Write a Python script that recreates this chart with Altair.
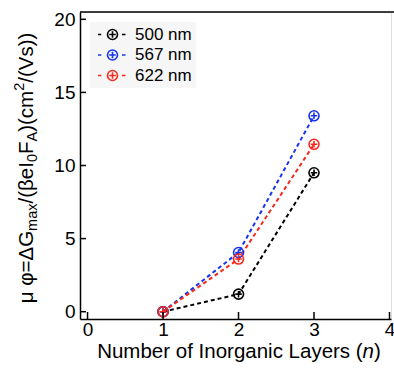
import altair as alt
import pandas as pd

# ---- data ----
layers = [1, 2, 3]
s500 = [0.0, 1.2, 9.5]
s567 = [0.0, 4.05, 13.4]
s622 = [0.0, 3.6, 11.45]
series = ["500 nm", "567 nm", "622 nm"]
colors = ["#000000", "#1634ee", "#f42a1e"]
x_ticks = [0, 1, 2, 3, 4]
y_ticks = [0, 5, 10, 15, 20]

ytitle_parts = ["μ φ=ΔG", "max", "/(βeI", "0", "F", "A", ")(cm", "2", "/(Vs))"]
ytitle_kinds = ["n", "sub", "n", "sub", "n", "sub", "n", "sup", "n"]
xtitle_parts = ["Number of Inorganic Layers (", "n", ")"]
xtitle_italic = [False, True, False]

# ---- layout ----
W, H = 311, 307
FONT = "Liberation Sans"
F_TICK = 19
F_MAIN = 20.5
F_SUB = 14.5
F_LEG = 17

# approximate Arial/Liberation Sans advance widths (em/1000)
AW = {"N": 722, "u": 556, "m": 833, "b": 556, "e": 556, "r": 333, " ": 278, "o": 556,
      "f": 278, "I": 278, "g": 556, "a": 556, "n": 556, "i": 222, "c": 500, "L": 556,
      "y": 500, "s": 500, "(": 333, ")": 333, "μ": 576, "φ": 650, "=": 584, "Δ": 668,
      "G": 778, "x": 500, "/": 278, "β": 575, "0": 556, "F": 611, "A": 667, "2": 556,
      "V": 667}


def tw(t, size):
    return sum(AW.get(ch, 556) for ch in t) * size / 1000.0


rows = []
for name, vals in zip(series, [s500, s567, s622]):
    for xv, yv in zip(layers, vals):
        rows.append({"n": xv, "v": yv, "series": name})
df = pd.DataFrame(rows)

xs = alt.Scale(domain=[-0.1, 4.02], nice=False, zero=False)
ys = alt.Scale(domain=[-0.5, 20.5], nice=False, zero=False)
cs = alt.Scale(domain=series, range=colors)

MARK_PATH = "M-1,0A1,1 0 1,0 1,0A1,1 0 1,0 -1,0M-0.65,0L0.65,0M0,-0.65L0,0.65"
LEG_PATH = ("M-2.9,0L-2.25,0M1.9,0L2.6,0"
            "M-1,0A1,1 0 1,0 1,0A1,1 0 1,0 -1,0M-0.65,0L0.65,0M0,-0.65L0,0.65")

legend = alt.Legend(orient="none", legendX=10, legendY=10, title=None,
                    symbolType=LEG_PATH, symbolSize=100,
                    symbolStrokeWidth=1.6, symbolOffset=10,
                    symbolFillColor="transparent",
                    labelFontSize=F_LEG, labelFont=FONT, labelColor="#000",
                    labelOffset=14, rowPadding=2.5, padding=4,
                    fillColor="#f6f6f6")

xenc = alt.X("n:Q", scale=xs,
             axis=alt.Axis(values=x_ticks, tickSize=0, labelPadding=1, labelFontSize=F_TICK,
                           labelFont=FONT, labelColor="#000", domainColor="#000",
                           domainWidth=1.5, grid=False, title=None, format="d"))
yenc = alt.Y("v:Q", scale=ys,
             axis=alt.Axis(values=y_ticks, tickSize=0, labelPadding=5, labelFontSize=F_TICK,
                           labelFont=FONT, labelColor="#000", domainColor="#000",
                           domainWidth=1.5, grid=False, title=None, format="d"))

lines = alt.Chart(df).mark_line(strokeDash=[4, 3], strokeWidth=2).encode(
    x=xenc, y=yenc, color=alt.Color("series:N", scale=cs, legend=legend), detail="series:N")

points = alt.Chart(df).mark_point(shape=MARK_PATH, size=100, filled=False, strokeWidth=1.6,
                                  opacity=1).encode(
    x=alt.X("n:Q", scale=xs), y=alt.Y("v:Q", scale=ys),
    color=alt.Color("series:N", scale=cs, legend=legend))

xt = alt.Chart(pd.DataFrame({"t": x_ticks})).mark_rule(color="#000", strokeWidth=1.5).encode(
    x=alt.X("t:Q", scale=xs), y=alt.value(H), y2=alt.value(H - 7))
yt = alt.Chart(pd.DataFrame({"t": y_ticks})).mark_rule(color="#000", strokeWidth=1.5).encode(
    y=alt.Y("t:Q", scale=ys), x=alt.value(0), x2=alt.value(6))
top = alt.Chart(pd.DataFrame({"t": [0]})).mark_rule(color="#000", strokeWidth=1.5).encode(
    x=alt.value(0), x2=alt.value(W + 3), y=alt.value(0))

# y title segments (rotated)
ysz = [F_MAIN if k == "n" else F_SUB for k in ytitle_kinds]
total = sum(tw(t, s) for t, s in zip(ytitle_parts, ysz))
start = 156 + total / 2
cum = 0
yrows = []
for t, k, s in zip(ytitle_parts, ytitle_kinds, ysz):
    xb = -47 if k == "n" else (-43 if k == "sub" else -56)
    yrows.append({"text": t, "px": xb, "py": start - cum, "fs": s})
    cum += tw(t, s)
ytitle = alt.Chart(pd.DataFrame(yrows)).mark_text(
    angle=270, align="left", baseline="alphabetic", font=FONT, color="#000").encode(
    x=alt.X("px:Q", scale=None), y=alt.Y("py:Q", scale=None),
    size=alt.Size("fs:Q", scale=None, legend=None), text="text:N")

# x title segments
xw = [tw(t, F_MAIN) for t in xtitle_parts]
xstart = 159 - sum(xw) / 2
xrows_n, xrows_i = [], []
c = 0
for t, it, w in zip(xtitle_parts, xtitle_italic, xw):
    (xrows_i if it else xrows_n).append({"text": t, "px": xstart + c, "py": 346})
    c += w
xtn = alt.Chart(pd.DataFrame(xrows_n)).mark_text(
    align="left", baseline="alphabetic", font=FONT, fontSize=F_MAIN, color="#000").encode(
    x=alt.X("px:Q", scale=None), y=alt.Y("py:Q", scale=None), text="text:N")
xti = alt.Chart(pd.DataFrame(xrows_i)).mark_text(
    align="left", baseline="alphabetic", font=FONT, fontSize=F_MAIN, fontStyle="italic",
    color="#000").encode(
    x=alt.X("px:Q", scale=None), y=alt.Y("py:Q", scale=None), text="text:N")

chart = alt.layer(lines, points, xt, yt, top, ytitle, xtn, xti).properties(
    width=W, height=H,
    autosize=alt.AutoSizeParams(type="none"),
    padding={"left": 80, "top": 12, "right": 3, "bottom": 57},
).configure_view(stroke=None).configure(background="white")

chart.save("out.html", embed_options={"renderer": "svg", "actions": False})
